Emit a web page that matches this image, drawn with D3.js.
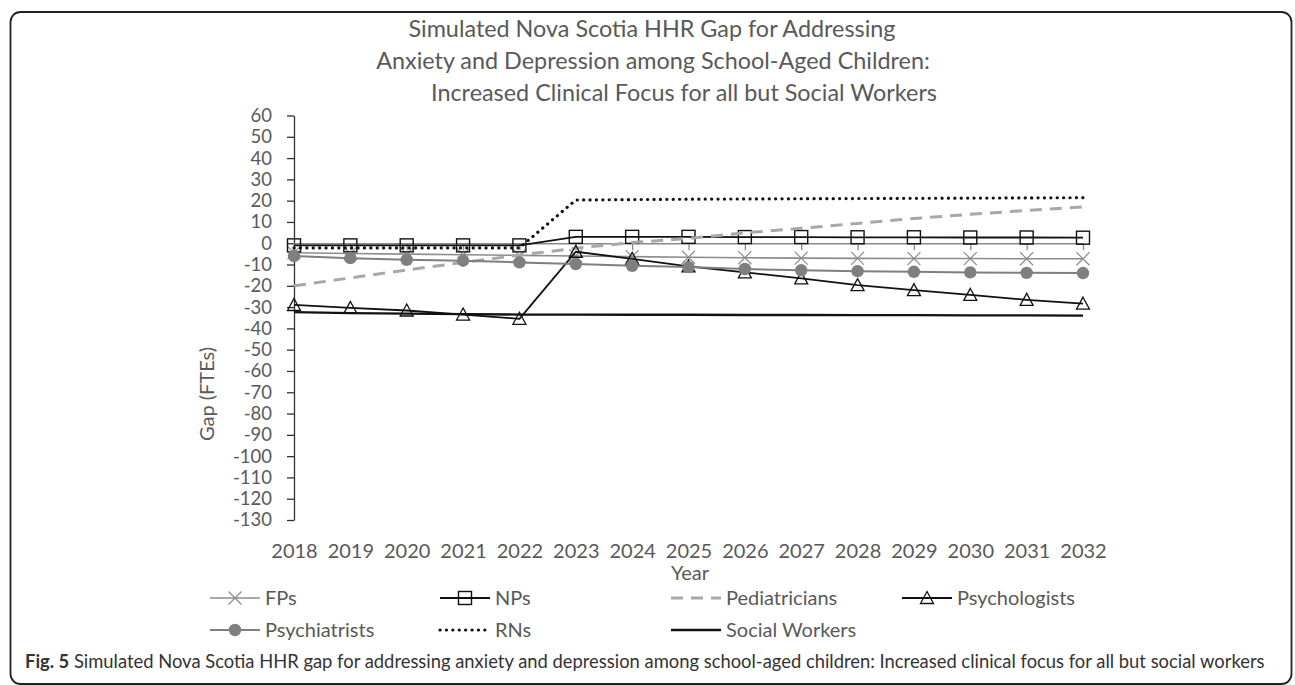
<!DOCTYPE html>
<html>
<head>
<meta charset="utf-8">
<script src="https://cdn.jsdelivr.net/npm/d3@7/dist/d3.min.js"></script>
<style>
  html, body { margin: 0; padding: 0; background: #fff; }
  svg { display: block; font-family: Lato, "Open Sans", sans-serif; }
</style>
</head>
<body>
<svg id="chart" width="1295" height="685"></svg>
<script>
// ---------------- data ----------------
const years = [2018, 2019, 2020, 2021, 2022, 2023, 2024, 2025, 2026, 2027, 2028, 2029, 2030, 2031, 2032];
const fps = [-4.5, -4.8, -5.1, -5.4, -5.7, -6.0, -6.3, -6.6, -6.8, -7.0, -7.1, -7.2, -7.2, -7.3, -7.3];
const nps = [-1, -1, -1, -1, -1, 3, 3, 3, 2.9, 2.9, 2.8, 2.8, 2.7, 2.7, 2.6];
const pediatricians = [-20, -16.3, -12.6, -9.0, -5.6, -2.3, 0.3, 2.3, 4.9, 7.0, 9.3, 11.6, 13.6, 15.4, 17.1];
const psychologists = [-29, -30.4, -31.6, -33.5, -35.5, -4, -7.3, -10.9, -13.7, -16.5, -19.7, -22, -24.3, -26.6, -28.4];
const psychiatrists = [-6, -7, -7.8, -8.2, -9, -9.8, -10.6, -11.2, -12.1, -12.7, -13.1, -13.4, -13.7, -13.9, -14];
const rns = [-2.2, -2.2, -2.2, -2.2, -2.2, 20.3, 20.5, 20.7, 20.8, 20.9, 21, 21.1, 21.2, 21.3, 21.4];
const socialWorkers = [-32.4, -32.8, -33.1, -33.3, -33.5, -33.5, -33.6, -33.6, -33.7, -33.7, -33.8, -33.8, -33.9, -33.9, -34];
const yTicks = [60, 50, 40, 30, 20, 10, 0, -10, -20, -30, -40, -50, -60, -70, -80, -90, -100, -110, -120, -130];
const seriesNames = ["FPs", "NPs", "Pediatricians", "Psychologists", "Psychiatrists", "RNs", "Social Workers"];
const titleLines = [
  "Simulated Nova Scotia HHR Gap for Addressing",
  "Anxiety and Depression among School-Aged Children:",
  "Increased Clinical Focus for all but Social Workers"
];
const captionBold = "Fig. 5";
const captionText = " Simulated Nova Scotia HHR gap for addressing anxiety and depression among school-aged children: Increased clinical focus for all but social workers";

// ---------------- styles ----------------
const styles = {
  "FPs":           { color: "#8c8c8c", width: 1.6, dash: null, marker: "x" },
  "NPs":           { color: "#111111", width: 1.8, dash: null, marker: "square" },
  "Pediatricians": { color: "#a8a8a8", width: 3, dash: "12,8", marker: null },
  "Psychologists": { color: "#111111", width: 1.8, dash: null, marker: "triangle" },
  "Psychiatrists": { color: "#7f7f7f", width: 2, dash: null, marker: "circle" },
  "RNs":           { color: "#111111", width: 3.2, dash: "0.1,6.3", cap: "round", marker: null },
  "Social Workers":{ color: "#111111", width: 2.3, dash: null, marker: null }
};
const dataBySeries = {
  "FPs": fps, "NPs": nps, "Pediatricians": pediatricians, "Psychologists": psychologists,
  "Psychiatrists": psychiatrists, "RNs": rns, "Social Workers": socialWorkers
};

const svg = d3.select("#chart");
const textColor = "#595959";

// border
svg.append("rect")
  .attr("x", 10.5).attr("y", 12).attr("width", 1281).attr("height", 672)
  .attr("rx", 10).attr("ry", 10)
  .attr("fill", "none").attr("stroke", "#222").attr("stroke-width", 1.8);

// scales
const x = d3.scalePoint().domain(years).range([294, 1083]);
const y = d3.scaleLinear().domain([-130, 60]).range([520, 115.5]);

// title
const titleCenters = [652, 653, 684];
const titleYs = [37, 69, 101];
const tl = svg.append("g").selectAll("text").data(titleLines).join("text")
  .attr("x", (d, i) => titleCenters[i]).attr("y", (d, i) => titleYs[i])
  .attr("text-anchor", "middle")
  .attr("font-size", 20).attr("fill", textColor).text(d => d);
{
  const w = tl.nodes()[1].getComputedTextLength();
  const fs = 20 * 554 / w;
  tl.attr("font-size", fs);
}

// y axis
const yAxis = svg.append("g").attr("transform", "translate(294,0)")
  .call(d3.axisLeft(y).tickValues(yTicks).tickSize(7).tickPadding(15).tickSizeOuter(0).tickFormat(d => String(d)));
yAxis.select(".domain").attr("stroke", "#333").attr("stroke-width", 1.3);
yAxis.selectAll(".tick line").attr("stroke", "#333").attr("stroke-width", 1.3);
yAxis.selectAll("text").attr("font-size", 18.5).attr("fill", textColor).attr("font-family", "Lato, sans-serif");

// zero-line category axis
const zAxis = svg.append("g").attr("transform", `translate(0,${y(0)})`)
  .call(d3.axisBottom(x).tickSize(7).tickSizeOuter(0).tickFormat(""));
zAxis.select(".domain").attr("stroke", "#8a8a8a").attr("stroke-width", 1.5);
zAxis.selectAll(".tick line").attr("stroke", "#8a8a8a").attr("stroke-width", 1.3);

// year labels
const xLab = svg.append("g").attr("transform", "translate(0,520)")
  .call(d3.axisBottom(x).tickSize(0).tickPadding(24).tickFormat(d => String(d)));
xLab.select(".domain").remove();
xLab.selectAll("text").attr("font-size", 20).attr("fill", textColor).attr("font-family", "Lato, sans-serif");

// axis titles
svg.append("text").attr("x", 690).attr("y", 580).attr("text-anchor", "middle")
  .attr("font-size", 20).attr("fill", textColor).text("Year");
svg.append("text").attr("transform", "translate(214,394) rotate(-90)").attr("text-anchor", "middle")
  .attr("font-size", 20).attr("fill", textColor).text("Gap (FTEs)");

// marker drawing
function drawMarker(g, type, color, cx, cy) {
  if (type === "x") {
    const s = 6.5;
    g.append("path").attr("d", `M${cx - s},${cy - s}L${cx + s},${cy + s}M${cx - s},${cy + s}L${cx + s},${cy - s}`)
      .attr("stroke", color).attr("stroke-width", 1.2).attr("fill", "none");
  } else if (type === "square") {
    g.append("rect").attr("x", cx - 6.5).attr("y", cy - 6.5).attr("width", 13).attr("height", 13)
      .attr("fill", "none").attr("stroke", "#111").attr("stroke-width", 1.4);
  } else if (type === "triangle") {
    g.append("path").attr("d", `M${cx},${cy - 6.5}L${cx + 6.5},${cy + 5.5}L${cx - 6.5},${cy + 5.5}Z`)
      .attr("fill", "none").attr("stroke", "#111").attr("stroke-width", 1.3);
  } else if (type === "circle") {
    g.append("circle").attr("cx", cx).attr("cy", cy).attr("r", 6.2).attr("fill", color);
  }
}

// series
const line = d3.line().x((d, i) => x(years[i])).y(d => y(d));
const plot = svg.append("g");
seriesNames.forEach(name => {
  const st = styles[name];
  const vals = dataBySeries[name];
  const g = plot.append("g");
  g.append("path").datum(vals).attr("d", line)
    .attr("fill", "none").attr("stroke", st.color).attr("stroke-width", st.width)
    .attr("stroke-dasharray", st.dash).attr("stroke-linecap", st.cap || "butt")
    .attr("stroke-linejoin", "round");
  if (st.marker) {
    vals.forEach((v, i) => drawMarker(g, st.marker, st.color, x(years[i]), y(v)));
  }
});

// legend
const colStarts = [210, 440, 671, 902];
const rowYs = [598, 630];
const legend = svg.append("g");
seriesNames.forEach((name, i) => {
  const st = styles[name];
  const col = i < 4 ? i : i - 4;
  const row = i < 4 ? 0 : 1;
  const x0 = colStarts[col], yy = rowYs[row];
  const g = legend.append("g");
  g.append("line").attr("x1", x0).attr("x2", x0 + 50).attr("y1", yy).attr("y2", yy)
    .attr("stroke", st.color).attr("stroke-width", st.width)
    .attr("stroke-dasharray", st.dash).attr("stroke-linecap", st.cap || "butt");
  if (st.marker) drawMarker(g, st.marker, st.color, x0 + 25, yy);
  g.append("text").attr("x", x0 + 55).attr("y", yy).attr("dy", "0.35em")
    .attr("font-size", 20).attr("fill", textColor).text(name);
});

// caption
const cap = svg.append("text").attr("x", 25).attr("y", 668).attr("font-size", 17).attr("fill", "#333");
cap.append("tspan").attr("font-weight", "bold").text(captionBold);
cap.append("tspan").text(captionText);
{
  const w = cap.node().getComputedTextLength();
  cap.attr("font-size", 17 * 1240 / w);
}
</script>
</body>
</html>
